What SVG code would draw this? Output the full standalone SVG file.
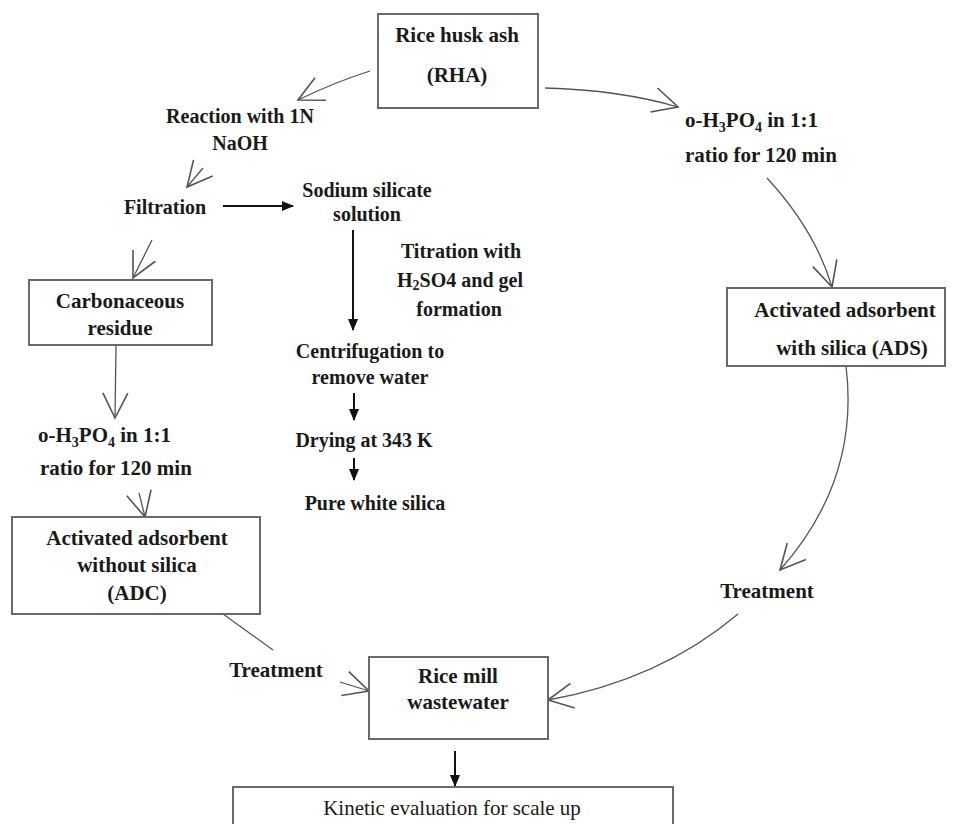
<svg xmlns="http://www.w3.org/2000/svg" width="953" height="824" viewBox="0 0 953 824">
<style>
.t{font-family:"Liberation Serif","Times New Roman",serif;font-weight:bold;font-size:21px;fill:#1a1a1a}
.c{font-family:"Liberation Serif","Times New Roman",serif;font-weight:bold;font-size:20px;fill:#1a1a1a}
.r{font-family:"Liberation Serif","Times New Roman",serif;font-size:21px;fill:#1a1a1a}
.m{text-anchor:middle}
.box{fill:#fff;stroke:#6a6a6a;stroke-width:2}
.thin{fill:none;stroke:#555;stroke-width:1.3}
.thick{fill:none;stroke:#111;stroke-width:2}
</style>
<defs>
<marker id="open" markerUnits="userSpaceOnUse" markerWidth="30" markerHeight="30" viewBox="0 0 24 24" refX="22" refY="12" orient="auto">
<path d="M2,2 L22,12 L2,22" fill="none" stroke="#555" stroke-width="1.3"/>
</marker>
<marker id="solid" markerUnits="userSpaceOnUse" markerWidth="12" markerHeight="12" viewBox="0 0 12 12" refX="11" refY="6" orient="auto">
<path d="M0,1 L12,6 L0,11 Z" fill="#111"/>
</marker>
</defs>
<rect width="953" height="824" fill="#fff"/>

<g id="connectors">
<path class="thin" d="M370,71 Q335,82 298,100" marker-end="url(#open)"/>
<path class="thin" d="M203,168 L187,187" marker-end="url(#open)"/>
<path class="thick" d="M223,206 L293,206" marker-end="url(#solid)"/>
<path class="thick" d="M353,230 L353,330" marker-end="url(#solid)"/>
<path class="thick" d="M354,393 L354,420" marker-end="url(#solid)"/>
<path class="thick" d="M354,458 L354,480" marker-end="url(#solid)"/>
<path class="thin" d="M152,240 L133,278" marker-end="url(#open)"/>
<path class="thin" d="M116,346 L115,418" marker-end="url(#open)"/>
<path class="thin" d="M139,493 L145,517" marker-end="url(#open)"/>
<path class="thin" d="M223,614 L273,650"/>
<path class="thin" d="M340,682 L369,691" marker-end="url(#open)"/>
<path class="thin" d="M545,88 Q620,90 678,107" marker-end="url(#open)"/>
<path class="thin" d="M767,178 Q815,230 832,287" marker-end="url(#open)"/>
<path class="thin" d="M846,366 Q860,480 780,570" marker-end="url(#open)"/>
<path class="thin" d="M738,614 Q660,680 548,700" marker-end="url(#open)"/>
<path class="thick" d="M455,751 L455,786" marker-end="url(#solid)"/>
</g>

<g id="rha">
<rect class="box" x="378" y="14" width="160" height="94"/>
<text class="t m" x="457" y="42">Rice husk ash</text>
<text class="t m" x="457" y="82">(RHA)</text>
</g>

<g id="reaction">
<text class="c m" x="240" y="123">Reaction with 1N</text>
<text class="c m" x="240" y="150">NaOH</text>
</g>

<g id="filtration">
<text class="c m" x="165" y="214">Filtration</text>
</g>

<g id="sodium">
<text class="c m" x="367" y="197">Sodium silicate</text>
<text class="c m" x="367" y="221">solution</text>
</g>

<g id="titration">
<text class="c m" x="461" y="258">Titration with</text>
<text class="c m" x="460" y="287">H<tspan font-size="14" dy="3">2</tspan><tspan dy="-3">SO4 and gel</tspan></text>
<text class="c m" x="459" y="316">formation</text>
</g>

<g id="centrifugation">
<text class="c m" x="370" y="358">Centrifugation to</text>
<text class="c m" x="370" y="384">remove water</text>
</g>

<g id="drying">
<text class="c m" x="364" y="447">Drying at 343 K</text>
</g>

<g id="silica">
<text class="c m" x="375" y="510">Pure white silica</text>
</g>

<g id="carbonaceous">
<rect class="box" x="29" y="280" width="183" height="65"/>
<text class="t m" x="120" y="308">Carbonaceous</text>
<text class="t m" x="120" y="335">residue</text>
</g>

<g id="acid-left">
<text class="t" x="38" y="442">o-H<tspan font-size="14" dy="5">3</tspan><tspan dy="-5">PO</tspan><tspan font-size="14" dy="5">4</tspan><tspan dy="-5"> in 1:1</tspan></text>
<text class="t" x="40" y="475">ratio for 120 min</text>
</g>

<g id="adc">
<rect class="box" x="12" y="517" width="248" height="97"/>
<text class="t m" x="137" y="545">Activated adsorbent</text>
<text class="t m" x="137" y="572">without silica</text>
<text class="t m" x="137" y="600">(ADC)</text>
</g>

<g id="treatment-left">
<text class="t m" x="276" y="677">Treatment</text>
</g>

<g id="acid-right">
<text class="t" x="685" y="127">o-H<tspan font-size="14" dy="5">3</tspan><tspan dy="-5">PO</tspan><tspan font-size="14" dy="5">4</tspan><tspan dy="-5"> in 1:1</tspan></text>
<text class="t" x="685" y="162">ratio for 120 min</text>
</g>

<g id="ads">
<rect class="box" x="727" y="288" width="218" height="78"/>
<text class="t m" x="845" y="317">Activated adsorbent</text>
<text class="t m" x="852" y="355">with silica (ADS)</text>
</g>

<g id="treatment-right">
<text class="t m" x="767" y="598">Treatment</text>
</g>

<g id="wastewater">
<rect class="box" x="369" y="657" width="179" height="82"/>
<text class="t m" x="458" y="683">Rice mill</text>
<text class="t m" x="458" y="709">wastewater</text>
</g>

<g id="kinetic">
<rect class="box" x="233" y="787" width="440" height="50"/>
<text class="r m" x="452" y="815">Kinetic evaluation for scale up</text>
</g>
</svg>
